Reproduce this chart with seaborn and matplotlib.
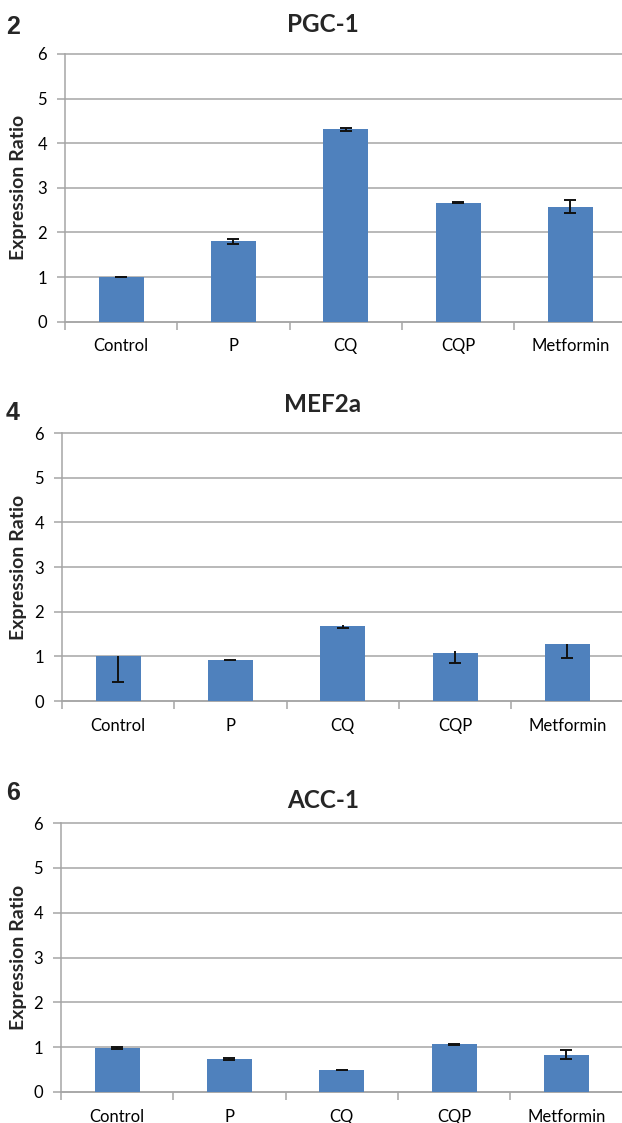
import numpy as np
import pandas as pd
import matplotlib
matplotlib.use("Agg")
import matplotlib.pyplot as plt
import seaborn as sns

groups = ["Control", "P", "CQ", "CQP", "Metformin"]

# PGC-1
pgc_vals = [1.00, 1.80, 4.31, 2.67, 2.58]
pgc_err = [0.01, 0.05, 0.04, 0.02, 0.15]

# MEF2a (bars show mostly the minus side)
mef_vals = [1.00, 0.92, 1.67, 1.07, 1.28]
mef_lo = [0.58, 0.01, 0.04, 0.21, 0.31]
mef_hi = [0.00, 0.01, 0.03, 0.05, 0.00]

# ACC-1
acc_vals = [0.99, 0.73, 0.49, 1.06, 0.83]
acc_err = [0.02, 0.02, 0.01, 0.02, 0.10]

sns.set_theme(style="white")
plt.rcParams["font.family"] = ["Lato", "DejaVu Sans"]

W, H = 622, 1123
fig = plt.figure(figsize=(W / 100, H / 100), dpi=100)

bar_col = "#4F81BD"
grid_col = "#A6A6A6"


def panel(left, top, bottom, vals, lo, hi, top_caps, title, tag, title_y, tag_y):
    right = left + 5 * 112.3
    ax = fig.add_axes([left / W, 1 - bottom / H, (right - left) / W, (bottom - top) / H])
    df = pd.DataFrame({"group": groups, "val": vals})
    sns.barplot(data=df, x="group", y="val", color=bar_col, saturation=1,
                width=0.4, linewidth=0, errorbar=None, ax=ax, zorder=3)
    eb = ax.errorbar(range(len(groups)), vals, yerr=[lo, hi], fmt="none",
                     ecolor="#111111", elinewidth=1.4, capsize=4, capthick=1.4, zorder=4)
    if not top_caps:
        eb[1][1].set_visible(False)
    ax.set_xlim(-0.5, 4.5)
    ax.set_ylim(0, 6)
    ax.set_yticks(range(0, 7))
    ax.yaxis.grid(True, color=grid_col, linewidth=1.1)
    for gl in ax.yaxis.get_gridlines():
        gl.set_clip_on(False)
    ax.set_axisbelow(True)
    for s in ["top", "right"]:
        ax.spines[s].set_visible(False)
    for s in ["left", "bottom"]:
        ax.spines[s].set_color(grid_col)
        ax.spines[s].set_linewidth(1.1)
    ax.set_xticks(np.arange(-0.5, 5, 1.0), minor=True)
    ax.tick_params(axis="x", which="major", length=0, pad=12, labelsize=12, colors="black")
    ax.tick_params(axis="x", which="minor", length=6, width=1.1, color=grid_col, bottom=True)
    ax.tick_params(axis="y", length=6, width=1.1, color=grid_col, pad=7, labelsize=12,
                   left=True, labelcolor="black")
    ax.set_xlabel("")
    ax.set_ylabel("")
    fig.text(19 / W, 1 - (top + bottom) / 2 / H, "Expression Ratio", rotation=90,
             ha="center", va="center", fontsize=14, fontweight="bold")
    fig.text(323 / W, 1 - title_y / H, title, ha="center", va="center",
             fontsize=17.5, fontweight="bold")
    fig.text(13 / W, 1 - tag_y / H, tag, ha="center", va="center",
             fontsize=18, fontweight="bold", family=["Liberation Sans", "DejaVu Sans"])
    return ax


panel(65, 54, 321.6, pgc_vals, pgc_err, pgc_err, True, "PGC-1", "2", 25, 27)
panel(62, 433, 701, mef_vals, mef_lo, mef_hi, False, "MEF2a", "4", 405, 413)
panel(61, 823, 1092, acc_vals, acc_err, acc_err, True, "ACC-1", "6", 800, 793)

fig.savefig("out.png", dpi=100)
